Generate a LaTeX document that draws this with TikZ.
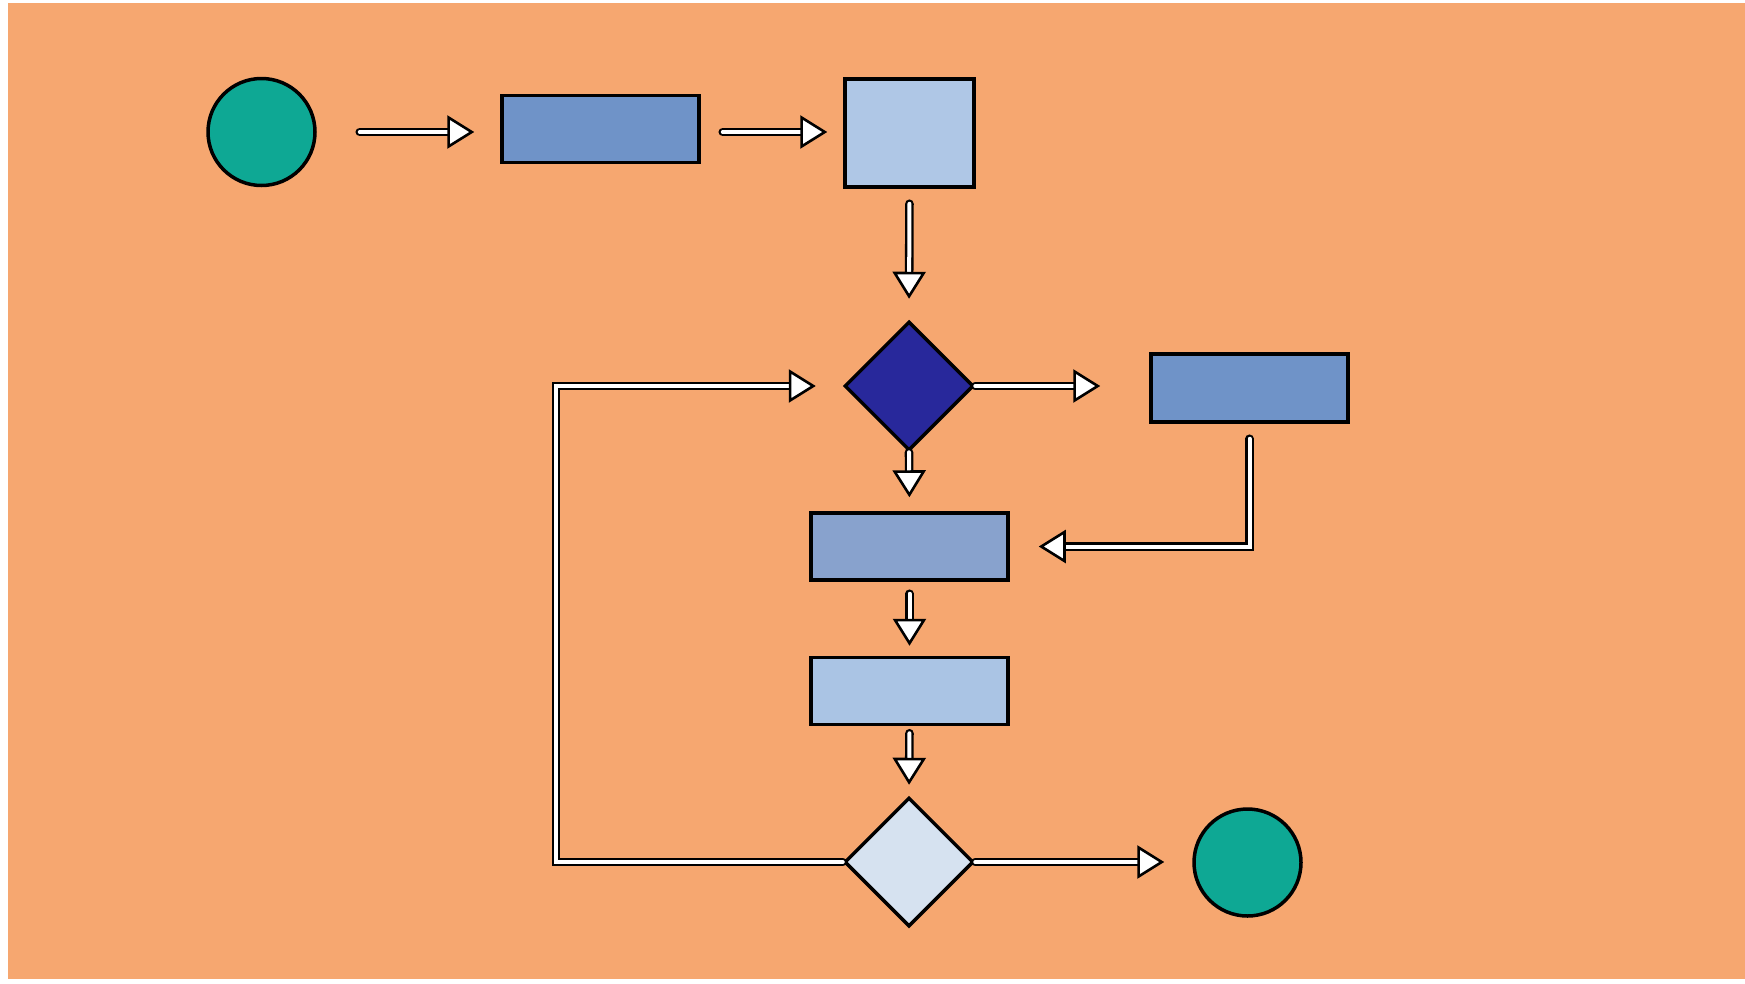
\documentclass[tikz,border=0pt]{standalone}
\usetikzlibrary{shapes.geometric,arrows.meta}
\definecolor{bgor}{RGB}{246,167,112}
\definecolor{tealc}{RGB}{14,168,148}
\definecolor{bluemid}{RGB}{111,147,200}
\definecolor{bluelight}{RGB}{175,199,230}
\definecolor{navy}{RGB}{40,40,155}
\definecolor{bluegrey}{RGB}{136,162,205}
\definecolor{bluepale}{RGB}{170,196,228}
\definecolor{bluewhite}{RGB}{214,226,240}
\begin{document}
\begin{tikzpicture}[x=1pt,y=-1pt,
  box/.style={draw=black, line width=3.5pt, inner sep=0pt, rectangle},
  dia/.style={draw=black, line width=3.5pt, diamond, inner sep=0pt, minimum width=129pt, minimum height=129pt},
  term/.style={draw=black, line width=3.5pt, circle, inner sep=0pt, fill=tealc, minimum size=107pt},
  flow/.style={draw=black, line width=2.3pt, double=white, double distance=4pt, line cap=round,
    -{Triangle[length=27pt, width=33pt, fill=white, color=black, line width=2.6pt]}}
]
\useasboundingbox (0,0) rectangle (1745,983);
\fill[white] (0,0) rectangle (1745,983);
\fill[bgor] (8,3) rectangle (1745,979);

\node[term] (c1) at (261.5,132) {};
\node[box, fill=bluemid, minimum width=197pt, minimum height=67pt] (r1) at (600.5,129) {};
\node[box, fill=bluelight, minimum width=129pt, minimum height=108pt] (sq) at (909.5,133) {};
\node[dia, fill=navy] (d1) at (909,386) {};
\node[box, fill=bluemid, minimum width=197pt, minimum height=68pt] (rr) at (1249.5,388) {};
\node[box, fill=bluegrey, minimum width=197pt, minimum height=67pt] (m1) at (909.5,546.5) {};
\node[box, fill=bluepale, minimum width=197pt, minimum height=67pt] (m2) at (909.5,691) {};
\node[dia, fill=bluewhite] (d2) at (909,862) {};
\node[term] (c2) at (1247.5,862.5) {};
\coordinate (lx) at (556,600);

\draw[flow, shorten <=43pt, shorten >=26pt] (c1.east) -- (c1.east -| r1.west);
\draw[flow, shorten <=22pt, shorten >=16pt] (r1.east |- c1.east) -- (c1.east -| sq.west);
\draw[flow, shorten <=15pt, shorten >=21pt] (sq.south) -- (d1.north);
\draw[flow, shorten >=49pt] (d1.east) -- (d1.east -| rr.west);
\draw[flow, shorten <=15pt, shorten >=29pt] (rr.south) |- (m1.east);
\draw[flow, shorten >=14pt] (d1.south) -- (m1.north);
\draw[flow, shorten <=12pt, shorten >=10pt] (m1.south) -- (m2.north);
\draw[flow, shorten <=7pt, shorten >=11pt] (m2.south) -- (d2.north);
\draw[flow, shorten >=28pt] (d2.east) -- (d2.east -| c2.west);
\draw[flow, shorten >=27pt] (d2.west) -| (lx) |- (d1.west);
\end{tikzpicture}
\end{document}
